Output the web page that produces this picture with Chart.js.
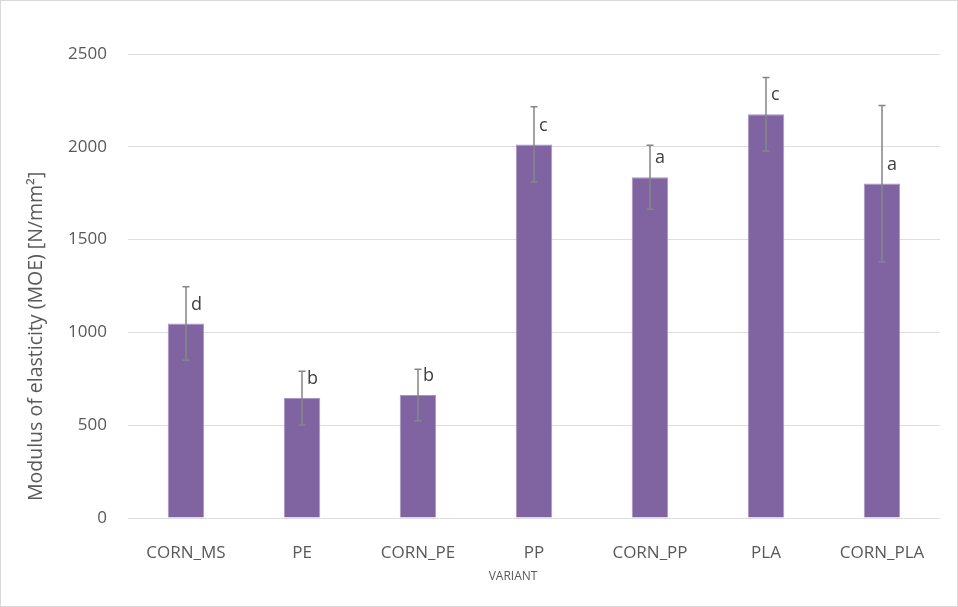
<!DOCTYPE html>
<html>
<head>
<meta charset="utf-8">
<script src="https://cdn.jsdelivr.net/npm/chart.js@4.4.1/dist/chart.umd.min.js"></script>
<style>
  html, body { margin: 0; padding: 0; background: #fff; }
  #wrap { position: relative; width: 956px; height: 605px; border: 1px solid #d9d9d9; }
  canvas { display: block; }
</style>
</head>
<body>
<div id="wrap"><canvas id="c" width="956" height="605"></canvas></div>
<script>
// Modulus of elasticity by variant, with standard deviation and significance groups
const variants = ['CORN_MS', 'PE', 'CORN_PE', 'PP', 'CORN_PP', 'PLA', 'CORN_PLA'];
const moeMean  = [1048, 646, 663, 2013, 1836, 2176, 1802];
const moeSd    = [198, 145, 139, 203, 173, 198, 421];
const groups   = ['d', 'b', 'b', 'c', 'a', 'c', 'a'];
const yTicks   = [0, 500, 1000, 1500, 2000, 2500];

const FONT = "'Open Sans', 'DejaVu Sans', sans-serif";

// Error bars and group letters, positioned through the chart's scales
const annotate = {
  id: 'annotate',
  afterDatasetsDraw(chart) {
    const ctx = chart.ctx;
    const x = chart.scales.x, y = chart.scales.y;
    ctx.save();
    moeMean.forEach((m, i) => {
      const cx = x.getPixelForValue(i);
      const yTop = y.getPixelForValue(m + moeSd[i]);
      const yBot = y.getPixelForValue(m - moeSd[i]);
      ctx.strokeStyle = '#858585';
      ctx.lineWidth = 1.5;
      ctx.beginPath();
      ctx.moveTo(cx, yTop); ctx.lineTo(cx, yBot);
      ctx.moveTo(cx - 3.5, yTop); ctx.lineTo(cx + 3.5, yTop);
      ctx.moveTo(cx - 3.5, yBot); ctx.lineTo(cx + 3.5, yBot);
      ctx.stroke();
      ctx.fillStyle = '#404040';
      ctx.font = '18px ' + FONT;
      ctx.textAlign = 'left';
      ctx.textBaseline = 'middle';
      ctx.fillText(groups[i], cx + 5, y.getPixelForValue(m) - 19);
    });
    // axis titles
    const area = chart.chartArea;
    ctx.fillStyle = '#595959';
    ctx.font = '19.5px ' + FONT;
    ctx.save();
    ctx.translate(35, area.bottom - 17);
    ctx.rotate(-Math.PI / 2);
    ctx.textAlign = 'left';
    ctx.textBaseline = 'middle';
    ctx.fillText('Modulus of elasticity (MOE) [N/mm²]', 0, 0);
    ctx.restore();
    ctx.font = '12px ' + FONT;
    ctx.textAlign = 'center';
    ctx.textBaseline = 'middle';
    ctx.fillText('VARIANT', 512, 576);
    ctx.restore();
  }
};

new Chart(document.getElementById('c'), {
  type: 'bar',
  data: {
    labels: variants,
    datasets: [{
      data: moeMean,
      backgroundColor: '#8064A2',
      borderColor: '#a995c4',
      borderWidth: { top: 1, left: 1, right: 1, bottom: 0 },
      categoryPercentage: 1,
      barPercentage: 0.315
    }]
  },
  options: {
    responsive: false,
    animation: false,
    layout: { padding: { left: 0, right: 17, top: 53, bottom: 0 } },
    plugins: { legend: { display: false }, tooltip: { enabled: false } },
    scales: {
      x: {
        grid: { display: false },
        border: { display: false },
        ticks: { color: '#595959', font: { family: FONT, size: 17 }, padding: 17, maxRotation: 0 },
        afterFit(s) { s.height = 605 - 517; }
      },
      y: {
        min: 0, max: 2500,
        afterBuildTicks(s) { s.ticks = yTicks.map(v => ({ value: v })); },
        grid: { color: '#dedede', lineWidth: 1, drawTicks: false },
        border: { display: false },
        ticks: { color: '#595959', font: { family: FONT, size: 17 }, padding: 21, callback: v => String(v) },
        afterFit(s) { s.width = 127; }
      }
    }
  },
  plugins: [annotate]
});
</script>
</body>
</html>
